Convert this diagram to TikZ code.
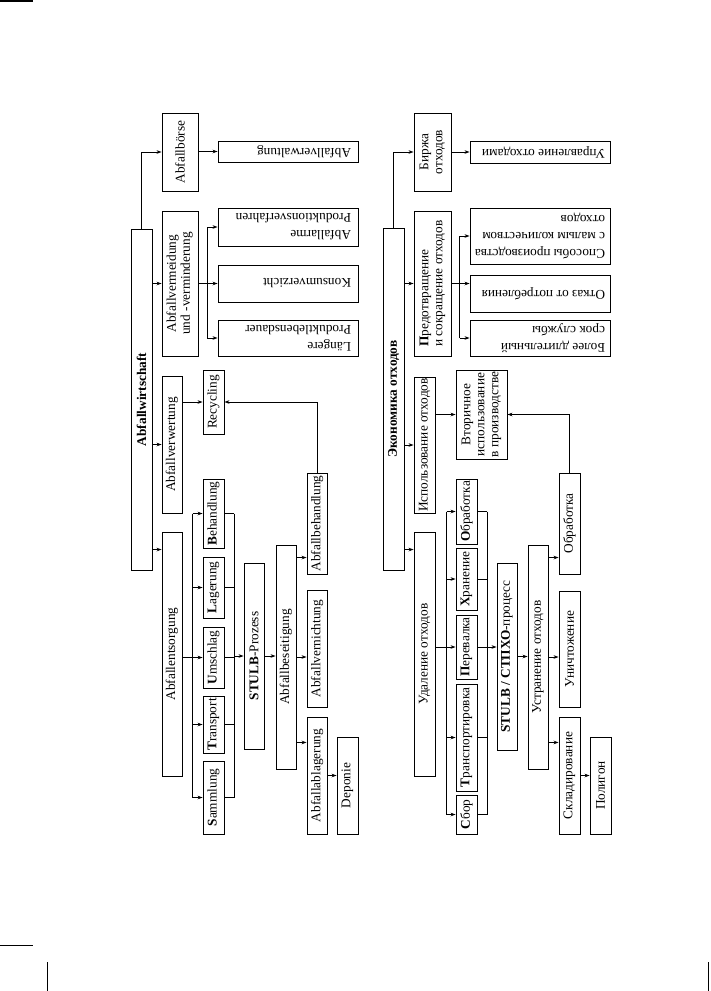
\documentclass[tikz,border=0pt]{standalone}
\usepackage{fontspec}
\setmainfont{Liberation Serif}
\usepackage{graphicx}
\usetikzlibrary{arrows.meta,calc}
\newcommand\fs{\fontsize{13.3}{14}\selectfont}
\newcommand\vt[1]{\rotatebox{90}{#1}}
\newcommand\vtt[2][c]{\rotatebox{90}{\begin{tabular}{@{}#1@{}}#2\end{tabular}}}
\newcommand\flp[2]{\rotatebox{180}{\parbox{#1pt}{\fontsize{13.3}{17}\selectfont\raggedright #2}}}
\newcommand\mkbox[6]{\node[box,minimum width={(#4)-(#2)},minimum height={(#5)-(#3)}] (#1) at ({((#2)+(#4))/2},{((#3)+(#5))/2}) {#6};}
\tikzset{
  box/.style={draw,line width=0.9pt,inner sep=0pt,font=\fs},
  arr/.style={line width=0.9pt,-{Stealth[length=5pt,width=3.6pt]}},
  ln/.style={line width=0.9pt}
}
\begin{document}
\begin{tikzpicture}[x=1pt,y=-1pt]
\useasboundingbox (0,0) rectangle (711,991);
% ---------------- German block ----------------
\mkbox{r1}{131}{229}{152}{570}{\vt{\textbf{Abfallwirtschaft}}}
\mkbox{boerse}{162}{113}{198}{191}{\vt{Abfallbörse}}
\mkbox{verm}{162}{211}{198}{356}{\vtt{Abfallvermeidung\\und -verminderung}}
\mkbox{verw}{162}{376}{182}{513}{\vt{Abfallverwertung}}
\mkbox{ents}{162}{532}{182}{776}{\vt{Abfallentsorgung}}
\mkbox{verwalt}{218}{141}{358}{162}{\flp{126}{Abfallverwaltung}}
\mkbox{arme}{218}{208}{358}{246}{\flp{126}{Abfallarme\\Produktionsverfahren}}
\mkbox{konsum}{218}{265}{358}{302}{\flp{126}{Konsumverzicht}}
\mkbox{laenger}{218}{320}{358}{356}{\flp{126}{Längere\\Produktlebensdauer}}
\mkbox{recyc}{203}{370}{224}{434}{\vt{Recycling}}
\mkbox{behand}{203}{479}{224}{548}{\vt{\textbf{B}ehandlung}}
\mkbox{lager}{203}{557}{224}{618}{\vt{\textbf{L}agerung}}
\mkbox{umschl}{203}{627}{224}{688}{\vt{\textbf{U}mschlag}}
\mkbox{transp}{203}{696}{224}{753}{\vt{\textbf{T}ransport}}
\mkbox{samml}{203}{761}{224}{834}{\vt{\textbf{S}ammlung}}
\mkbox{stulb}{244}{563}{264}{749}{\vt{\textbf{STULB}-Prozess}}
\mkbox{beseit}{276}{545}{296}{769}{\vt{Abfallbeseitigung}}
\mkbox{abbeh}{307}{473}{327}{574}{\vt{Abfallbehandlung}}
\mkbox{vernicht}{307}{590}{327}{707}{\vt{Abfallvernichtung}}
\mkbox{ablag}{307}{717}{327}{834}{\vt{Abfallablagerung}}
\mkbox{deponie}{337}{737}{358}{834}{\vt{Deponie}}

\draw[arr] (r1.north) |- (boerse.west);
\draw[arr] (r1.east |- verm.west) -- (verm.west);
\draw[arr] (r1.east |- verw.west) -- (verw.west);
\coordinate (e1) at ($(ents.north west)+(0,18)$);
\draw[arr] (r1.east |- e1) -- (e1);
\draw[arr] (boerse.east |- verwalt.west) -- (verwalt.west);
\draw[arr] (verm.east) -- (verm.east -| konsum.west);
\coordinate (b1) at ($(verm.east)!0.45!(verm.east -| konsum.west)$);
\draw[ln] (b1 |- arme.west) -- (b1 |- laenger.west);
\draw[arr] (b1 |- arme.west) -- (arme.west);
\draw[arr] (b1 |- laenger.west) -- (laenger.west);
\draw[arr] (verw.east |- recyc.west) -- (recyc.west);
\draw[arr] (abbeh.north) |- (recyc.east);
\coordinate (b2) at ($(ents.east)!0.5!(ents.east -| umschl.west)$);
\coordinate (b3) at ($(umschl.east)!0.5!(umschl.east -| stulb.west)$);
\draw[ln] (b2 |- behand.west) -- (b2 |- samml.west);
\draw[ln] (b3 |- behand.east) -- (b3 |- samml.east);
\draw[ln] (ents.east |- umschl.west) -- (b2 |- umschl.west);
\foreach \n in {behand,lager,umschl,transp,samml}{
  \draw[arr] (b2 |- \n.west) -- (\n.west);
  \draw[ln] (\n.east) -- (b3 |- \n.east);
}
\draw[arr] (b3 |- stulb.west) -- (stulb.west);
\draw[arr] (stulb.east) -- (stulb.east -| beseit.west);
\coordinate (c1) at ($(beseit.north east)+(0,13)$);
\draw[arr] (c1) -- (c1 -| abbeh.west);
\draw[arr] (beseit.east) -- (beseit.east -| vernicht.west);
\coordinate (c2) at ($(beseit.south east)+(0,-27)$);
\draw[arr] (c2) -- (c2 -| ablag.west);
\draw[arr] (ablag.east) -- (ablag.east -| deponie.west);

% ---------------- Russian block ----------------
\mkbox{r2}{383}{228}{404}{570}{\vt{\textbf{Экономика отходов}}}
\mkbox{birzha}{414}{113}{451}{191}{\vtt{Биржа\\отходов}}
\mkbox{predot}{414}{211}{451}{356}{\vtt[l]{\textbf{П}редотвращение\\и сокращение отходов}}
\mkbox{ispol}{414}{377}{435}{513}{\vt{Использование отходов}}
\mkbox{udal}{414}{532}{435}{776}{\vt{Удаление отходов}}
\mkbox{uprav}{470}{141}{610}{163}{\flp{130}{Управление отходами}}
\mkbox{sposob}{470}{208}{610}{264}{\flp{130}{Способы производства\\с малым количеством\\отходов}}
\mkbox{otkaz}{470}{275}{610}{312}{\flp{130}{Отказ от потребления}}
\mkbox{bolee}{470}{320}{610}{356}{\flp{130}{Более длительный\\срок службы}}
\mkbox{vtor}{456}{370}{507}{459}{\vtt{Вторичное\\использование\\в производстве}}
\mkbox{obr2}{559}{473}{580}{574}{\vt{Обработка}}
\mkbox{obrL}{456}{479}{477}{544}{\vt{\textbf{О}бработка}}
\mkbox{hran}{456}{548}{477}{610}{\vt{\textbf{Х}ранение}}
\mkbox{pereval}{456}{615}{477}{679}{\vt{\textbf{П}еревалка}}
\mkbox{transR}{456}{684}{477}{791}{\vt{\textbf{Т}ранспортировка}}
\mkbox{sbor}{456}{795}{477}{834}{\vt{\textbf{С}бор}}
\mkbox{stulbR}{497}{563}{517}{750}{\vt{\textbf{STULB / СТПХО}-процесс}}
\mkbox{ustran}{528}{545}{548}{769}{\vt{Устранение отходов}}
\mkbox{unicht}{559}{591}{580}{707}{\vt{Уничтожение}}
\mkbox{sklad}{559}{717}{580}{834}{\vt{Складирование}}
\mkbox{poligon}{590}{737}{611}{834}{\vt{Полигон}}

\draw[arr] (r2.north) |- (birzha.west);
\draw[arr] (r2.east |- predot.west) -- (predot.west);
\draw[arr] (r2.east |- ispol.west) -- (ispol.west);
\coordinate (e2) at ($(udal.north west)+(0,18)$);
\draw[arr] (r2.east |- e2) -- (e2);
\draw[arr] (birzha.east |- uprav.west) -- (uprav.west);
\draw[arr] (predot.east) -- (predot.east -| otkaz.west);
\coordinate (b4) at ($(predot.east)!0.45!(predot.east -| otkaz.west)$);
\draw[ln] (b4 |- sposob.west) -- (b4 |- bolee.west);
\draw[arr] (b4 |- sposob.west) -- (sposob.west);
\draw[arr] (b4 |- bolee.west) -- (bolee.west);
\draw[arr] (ispol.east |- vtor.west) -- (vtor.west);
\draw[arr] (obr2.north) |- (vtor.east);
\coordinate (b5) at ($(udal.east)!0.55!(udal.east -| pereval.west)$);
\coordinate (b6) at ($(pereval.east)!0.5!(pereval.east -| stulbR.west)$);
\draw[ln] (b5 |- obrL.west) -- (b5 |- sbor.west);
\draw[ln] (b6 |- obrL.east) -- (b6 |- sbor.east);
\draw[ln] (udal.east |- pereval.west) -- (b5 |- pereval.west);
\foreach \n in {obrL,hran,pereval,transR,sbor}{
  \draw[arr] (b5 |- \n.west) -- (\n.west);
  \draw[ln] (\n.east) -- (b6 |- \n.east);
}
\draw[arr] (b6 |- pereval.east) -- (pereval.east -| stulbR.west);
\draw[arr] (stulbR.east) -- (stulbR.east -| ustran.west);
\coordinate (c3) at ($(ustran.north east)+(0,13)$);
\draw[arr] (c3) -- (c3 -| obr2.west);
\draw[arr] (ustran.east) -- (ustran.east -| unicht.west);
\coordinate (c4) at ($(ustran.south east)+(0,-27)$);
\draw[arr] (c4) -- (c4 -| sklad.west);
\draw[arr] (sklad.east) -- (sklad.east -| poligon.west);

% ---------------- page marks ----------------
\draw[line width=1.5pt] (0,1) -- (33,1);
\draw[line width=1pt] (0,945) -- (33,945);
\draw[line width=1pt] (47,962) -- (47,991);
\draw[line width=1pt] (708,962) -- (708,991);
\end{tikzpicture}
\end{document}
